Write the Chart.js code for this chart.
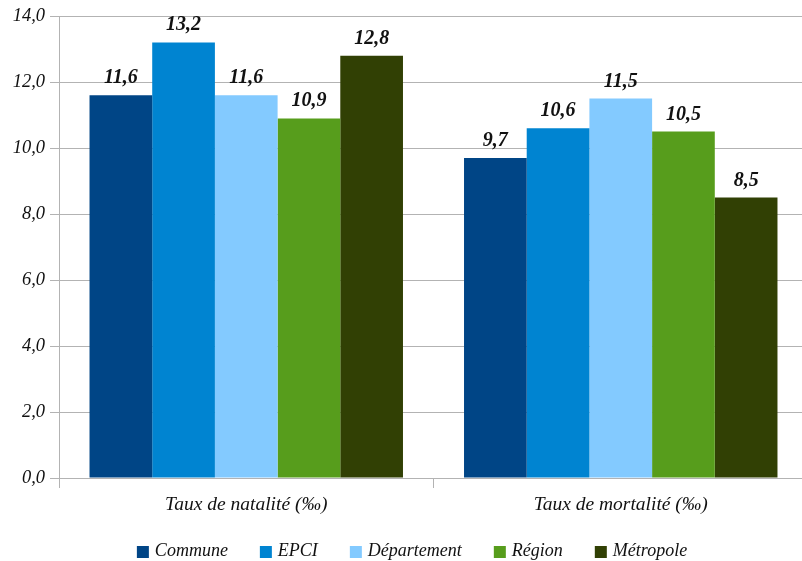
<!DOCTYPE html>
<html>
<head>
<meta charset="utf-8">
<script src="https://cdn.jsdelivr.net/npm/chart.js@4/dist/chart.umd.min.js"></script>
<style>
  html, body { margin: 0; padding: 0; background: #fff; overflow: hidden; }
  #wrap { width: 812px; height: 561px; position: relative; }
</style>
</head>
<body>
<div id="wrap"><canvas id="c" width="812" height="561"></canvas></div>
<script>
const categories = ["Taux de natalité (‰)", "Taux de mortalité (‰)"];
const seriesNames = ["Commune", "EPCI", "Département", "Région", "Métropole"];
const commune = [11.6, 9.7];
const epci = [13.2, 10.6];
const departement = [11.6, 11.5];
const region = [10.9, 10.5];
const metropole = [12.8, 8.5];
const yTicks = [0, 2, 4, 6, 8, 10, 12, 14];
const colors = ["#004586", "#0084d1", "#83caff", "#579d1c", "#314004"];

const seriesValues = [commune, epci, departement, region, metropole];
const fmt = v => v.toFixed(1).replace('.', ',');
const SERIF = '"Liberation Serif", "DejaVu Serif", serif';

const valueLabels = {
  id: 'valueLabels',
  afterDatasetsDraw(chart) {
    const ctx = chart.ctx;
    ctx.save();
    ctx.font = 'italic bold 20px ' + SERIF;
    ctx.fillStyle = '#111';
    ctx.textAlign = 'center';
    ctx.textBaseline = 'alphabetic';
    chart.data.datasets.forEach((ds, i) => {
      const meta = chart.getDatasetMeta(i);
      meta.data.forEach((bar, j) => {
        ctx.fillText(fmt(ds.data[j]), bar.x, bar.y - 12);
      });
    });
    ctx.restore();
  }
};

const customLegend = {
  id: 'customLegend',
  afterDraw(chart) {
    const ctx = chart.ctx;
    ctx.save();
    ctx.font = 'italic 18px ' + SERIF;
    const box = 12, gapText = 6, gapItem = 32;
    const widths = chart.data.datasets.map(ds => ctx.measureText(ds.label).width);
    const total = widths.reduce((a, w) => a + box + gapText + w, 0) + gapItem * (widths.length - 1);
    let x = 412 - total / 2;
    const cy = 551;
    ctx.textBaseline = 'middle';
    ctx.textAlign = 'left';
    chart.data.datasets.forEach((ds, i) => {
      ctx.fillStyle = ds.backgroundColor;
      ctx.fillRect(x, cy - box / 2 + 1, box, box);
      ctx.fillStyle = '#111';
      ctx.fillText(ds.label, x + box + gapText, cy);
      x += box + gapText + widths[i] + gapItem;
    });
    ctx.restore();
  }
};

new Chart(document.getElementById('c'), {
  type: 'bar',
  data: {
    labels: categories,
    datasets: seriesNames.map((n, i) => ({
      label: n,
      data: seriesValues[i],
      backgroundColor: colors[i],
      borderWidth: 0,
      categoryPercentage: 0.837,
      barPercentage: 1.0
    }))
  },
  options: {
    responsive: false,
    animation: false,
    layout: { padding: { top: 12, right: 4, left: 0, bottom: 38 } },
    plugins: {
      tooltip: { enabled: false },
      legend: { display: false }
    },
    scales: {
      x: {
        offset: true,
        grid: {
          offset: true,
          drawOnChartArea: false,
          drawTicks: true,
          tickLength: 10,
          color: '#b3b3b3',
          lineWidth: 1
        },
        border: { display: true, color: '#b3b3b3', width: 1 },
        ticks: {
          font: { family: SERIF, size: 19.5, style: 'italic' },
          color: '#111',
          padding: 5
        },
        afterFit(scale) { scale.height = 45; }
      },
      y: {
        min: 0,
        max: 14,
        afterBuildTicks(scale) { scale.ticks = yTicks.map(v => ({ value: v })); },
        grid: {
          color: '#b3b3b3',
          lineWidth: 1,
          drawTicks: true,
          tickLength: 9
        },
        border: { display: true, color: '#b3b3b3', width: 1 },
        ticks: {
          font: { family: SERIF, size: 18.5, style: 'italic' },
          color: '#111',
          padding: 5,
          callback: v => fmt(v)
        },
        afterFit(scale) { scale.width = 59; }
      }
    }
  },
  plugins: [valueLabels, customLegend]
});
</script>
</body>
</html>
